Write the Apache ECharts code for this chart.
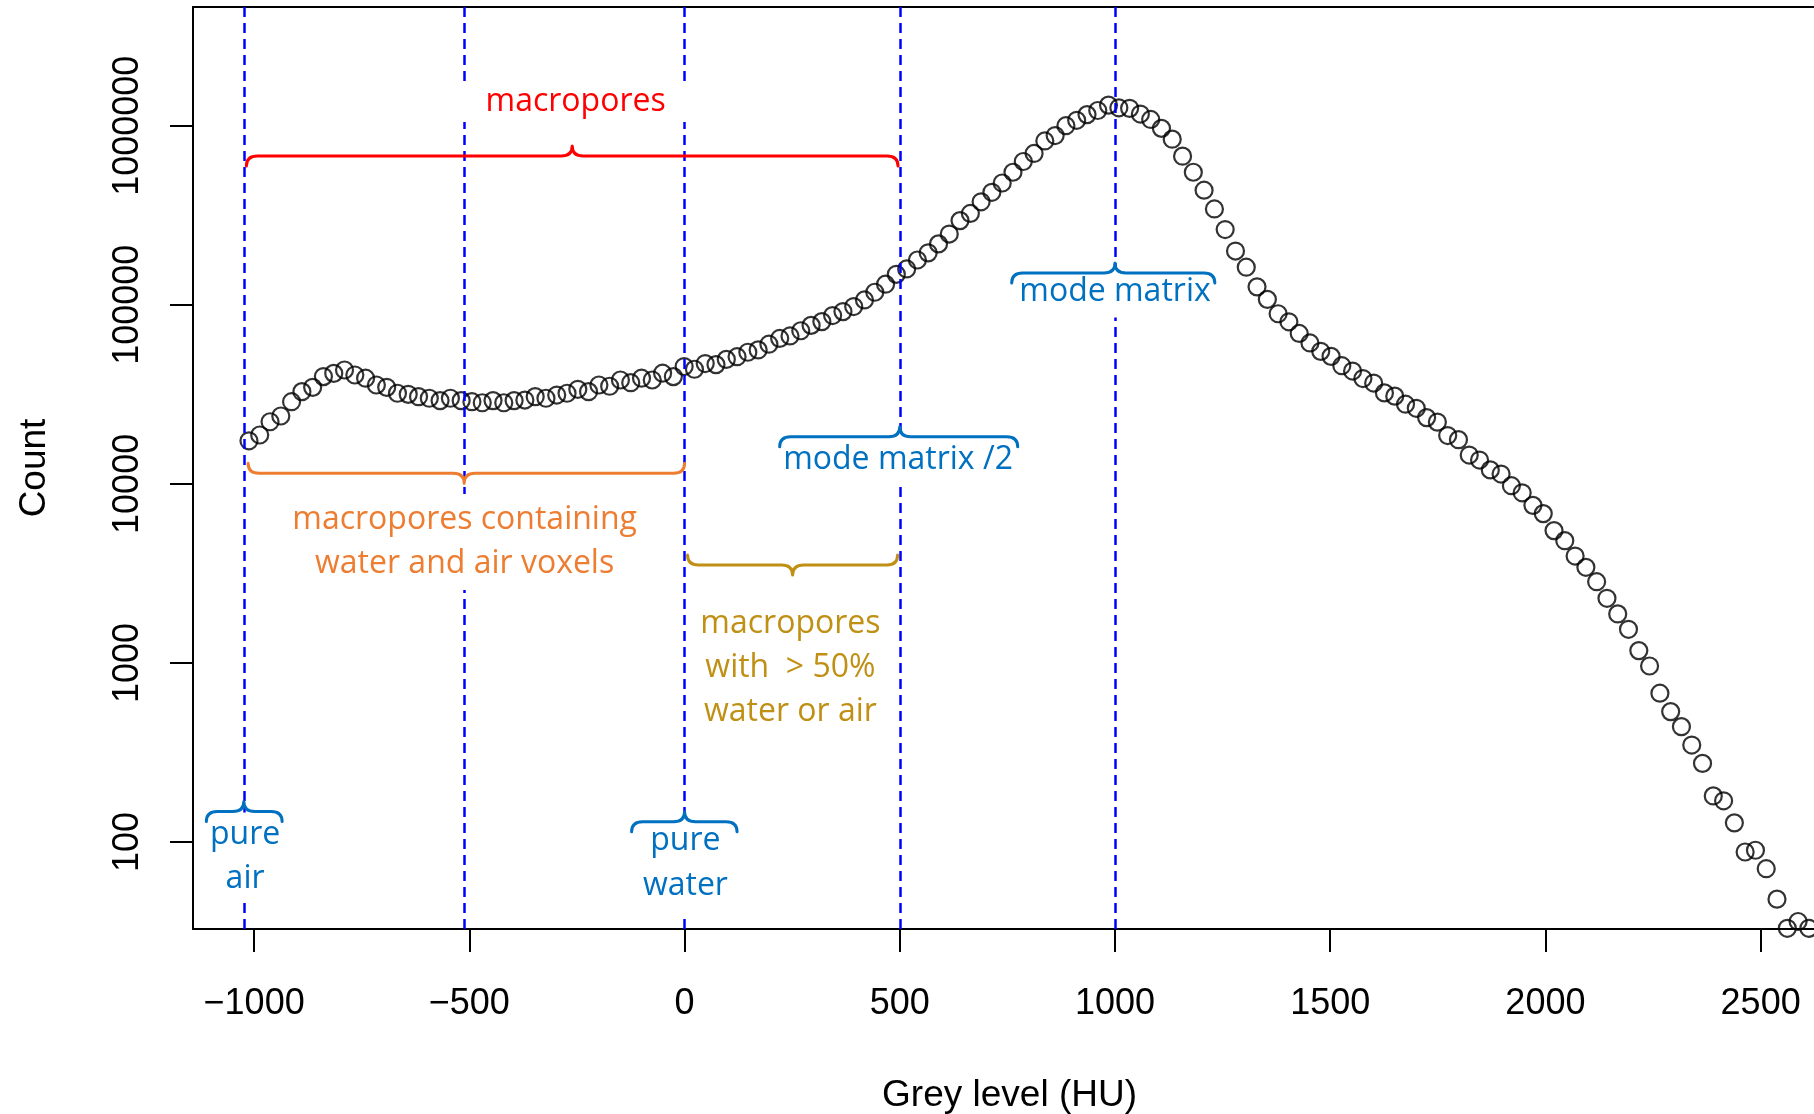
<!DOCTYPE html>
<html><head><meta charset="utf-8">
<script src="https://cdn.jsdelivr.net/npm/echarts@6/dist/echarts.min.js"></script>
<style>html,body{margin:0;padding:0;background:#fff}#c{width:1814px;height:1114px}</style>
</head><body><div id="c"></div>
<script>
// ---- data ----
const greyLevels = [
 -1012,-987,-963,-938,-913,-889,-864,-839,-815,-790,
 -766,-741,-716,-692,-667,-642,-618,-593,-568,-544,
 -519,-494,-470,-445,-420,-396,-371,-347,-322,-297,
 -273,-248,-223,-199,-174,-149,-125,-100,-75,-51,
 -26,-1,23,48,73,97,122,147,171,196,
 221,245,270,294,319,344,368,393,418,442,
 467,492,516,541,566,590,615,640,664,689,
 714,738,763,787,812,837,861,886,911,935,
 960,985,1009,1034,1059,1083,1108,1133,1157,1182,
 1207,1231,1256,1280,1305,1330,1354,1379,1404,1428,
 1453,1478,1502,1527,1552,1576,1601,1626,1650,1675,
 1700,1724,1749,1773,1798,1823,1847,1872,1897,1921,
 1946,1971,1995,2020,2045,2069,2094,2119,2143,2168,
 2193,2217,2242,2266,2291,2316,2340,2365,2390,2414,
 2439,2464,2488,2513,2538,2562,2587,2612
];
const counts = [
 17400,18750,22230,23930,28770,32730,34590,39720,41400,43250,
 40550,38900,35650,34590,32060,31620,30690,30060,29170,30060,
 29170,28770,28380,29170,28380,29170,29380,30690,30060,31330,
 32060,33730,32730,35650,35080,38020,36730,38900,38020,41500,
 39720,45190,43650,46990,46340,49550,51290,54330,55980,60260,
 64860,66990,71610,76740,80540,87100,91620,97720,106400,117500,
 130300,147900,158500,177800,195000,218800,248300,295100,323600,375800,
 424600,478600,549500,631000,699800,822200,881000,1000000,1071500,1153000,
 1216000,1303000,1259000,1250000,1161000,1084000,966000,841000,676000,549500,
 436500,342800,263000,199500,162200,125900,107200,89130,80350,69180,
 61240,54950,51520,45710,42660,38730,36560,32210,30900,27860,
 26420,23440,22130,18620,17660,14490,13580,11970,11350,9772,
 8913,7586,6823,5483,4819,3954,3420,2844,2296,1879,
 1542,1172,962,678,535,441,348,275,181,170,
 128,88,90,71,48,33,36,33
];
const xTickValues = [-1000,-500,0,500,1000,1500,2000,2500];
const yTickValues = [100,1000,10000,100000,1000000];
const referenceLines = [-1024,-512,0,500,1000];

// annotation braces (data space)
const braceFrom  = [-1018,-1014,7,221,760,-1111,-123];
const braceTo    = [496,0,495,774,1232,-935,122];
const braceCusp  = [-261,-512,251,500,1000,-1024,0];
const braceLevel = [678000,11460,3524,18340,150600,148,130];
const braceUp    = [true,false,false,true,true,true,true];

// annotation texts (data space)
const labelText = ['macropores','macropores containing\nwater and air voxels','macropores\nwith  > 50%\nwater or air','mode matrix /2','mode matrix','pure\nair','pure\nwater'];
const labelX = [-253,-511,246,496,1000,-1021,2];
const labelY = [1355000,4738,938,13690,117900,83.1,76.4];

// ---- styles ----
const braceColor = ['#ff0000','#ed7d31','#c09014','#0070c0','#0070c0','#0070c0','#0070c0'];
const labelColor = ['#ff0000','#ed7d31','#c09014','#0070c0','#0070c0','#0070c0','#0070c0'];
const labelSize = [32,32,32,32,32,32,32];
const labelLine = [40,44,44,34,34,44,45];
const labelBg = ['#fff','#fff',null,'#fff','#fff','#fff','#fff'];
const labelPad = [[0,26,0,26],[4,6,4,6],0,[0,4,11,4],[0,4,17,4],[0,4,0,4],[0,4,10,4]];

const chart = echarts.init(document.getElementById('c'), null, {renderer:'canvas'});
const axisFont = 'Liberation Sans';
const X_MIN = -1142, X_MAX = 2624;

function renderBrace(params, api){
  const i = params.dataIndex;
  const a = api.coord([braceFrom[i], braceLevel[i]]);
  const b = api.coord([braceTo[i], braceLevel[i]]);
  const c = api.coord([braceCusp[i], braceLevel[i]]);
  const y = a[1], u = braceUp[i] ? 1 : -1;
  const e = 10, t = 10, r = 11;
  const ye = y + u*e, yt = y - u*t;
  const d = 'M'+a[0]+','+ye+' Q'+a[0]+','+y+' '+(a[0]+r)+','+y+
            ' L'+(c[0]-r)+','+y+' Q'+c[0]+','+y+' '+c[0]+','+yt+
            ' Q'+c[0]+','+y+' '+(c[0]+r)+','+y+
            ' L'+(b[0]-r)+','+y+' Q'+b[0]+','+y+' '+b[0]+','+ye;
  return {type:'path', shape:{pathData:d}, style:{stroke:braceColor[i], lineWidth:3, fill:'none', lineCap:'round', lineJoin:'round'}};
}
function renderLabel(params, api){
  const i = params.dataIndex;
  const p = api.coord([labelX[i], labelY[i]]);
  const st = {text:labelText[i], fill:labelColor[i], font: labelSize[i]+'px "Open Sans"',
    align:'center', verticalAlign:'middle', lineHeight: labelLine[i], padding: labelPad[i]};
  if (labelBg[i]) st.backgroundColor = labelBg[i];
  return {type:'text', x:p[0], y:p[1], style:st};
}

chart.setOption({
  animation:false,
  backgroundColor:'#fff',
  grid:{left:193, top:7, width:1621, height:922, show:false, outerBoundsMode:'none', containLabel:false},
  xAxis:[{
    type:'value', min:X_MIN, max:X_MAX, position:'bottom',
    axisLine:{show:true, onZero:false, lineStyle:{color:'#000', width:2}}, splitLine:{show:false},
    axisTick:{show:true, length:23, lineStyle:{color:'#000', width:2}, customValues:xTickValues},
    axisLabel:{customValues:xTickValues, margin:57, color:'#000', fontSize:36, fontFamily:axisFont,
      formatter:v => v < 0 ? '\u2212' + Math.abs(v) : String(v)},
    name:'Grey level (HU)', nameLocation:'middle', nameGap:148,
    nameTextStyle:{color:'#000', fontSize:37, fontFamily:axisFont, padding:[0,0,0,12]}
  },{
    type:'value', min:X_MIN, max:X_MAX, position:'top',
    axisLine:{show:true, onZero:false, lineStyle:{color:'#000', width:2}},
    axisTick:{show:false}, axisLabel:{show:false}, splitLine:{show:false}
  }],
  yAxis:{
    type:'log', logBase:10, min:32.7, max:4600000,
    axisLine:{show:true, onZero:false, lineStyle:{color:'#000', width:2}}, splitLine:{show:false}, minorTick:{show:false},
    axisTick:{show:true, length:23, lineStyle:{color:'#000', width:2}, customValues:yTickValues},
    axisLabel:{customValues:yTickValues, rotate:90, margin:47, color:'#000', fontSize:36, fontFamily:axisFont,
      formatter:v => String(Math.round(v))},
    name:'Count', nameLocation:'middle', nameGap:140, nameRotate:90,
    nameTextStyle:{color:'#000', fontSize:37, fontFamily:axisFont}
  },
  series:[
    {
      type:'scatter', silent:true, z:2,
      data: greyLevels.map((x,i)=>[x, counts[i]]),
      symbol:'circle', symbolSize:17,
      itemStyle:{color:'rgba(0,0,0,0)', borderColor:'#000', borderWidth:2.2},
      markLine:{silent:true, symbol:'none', label:{show:false}, animation:false,
        lineStyle:{color:'#0000ff', width:2.5, type:[10,6]},
        data: referenceLines.map(v=>({xAxis:v}))}
    },
    {
      type:'custom', silent:true, z:5,
      data: labelX.map((x,i)=>[x, labelY[i]]),
      encode:{x:0, y:1},
      renderItem: renderLabel
    },
    {
      type:'custom', silent:true, z:6,
      data: braceFrom.map((x,i)=>[x, braceLevel[i]]),
      encode:{x:0, y:1},
      renderItem: renderBrace
    }
  ]
});
</script>
</body></html>
